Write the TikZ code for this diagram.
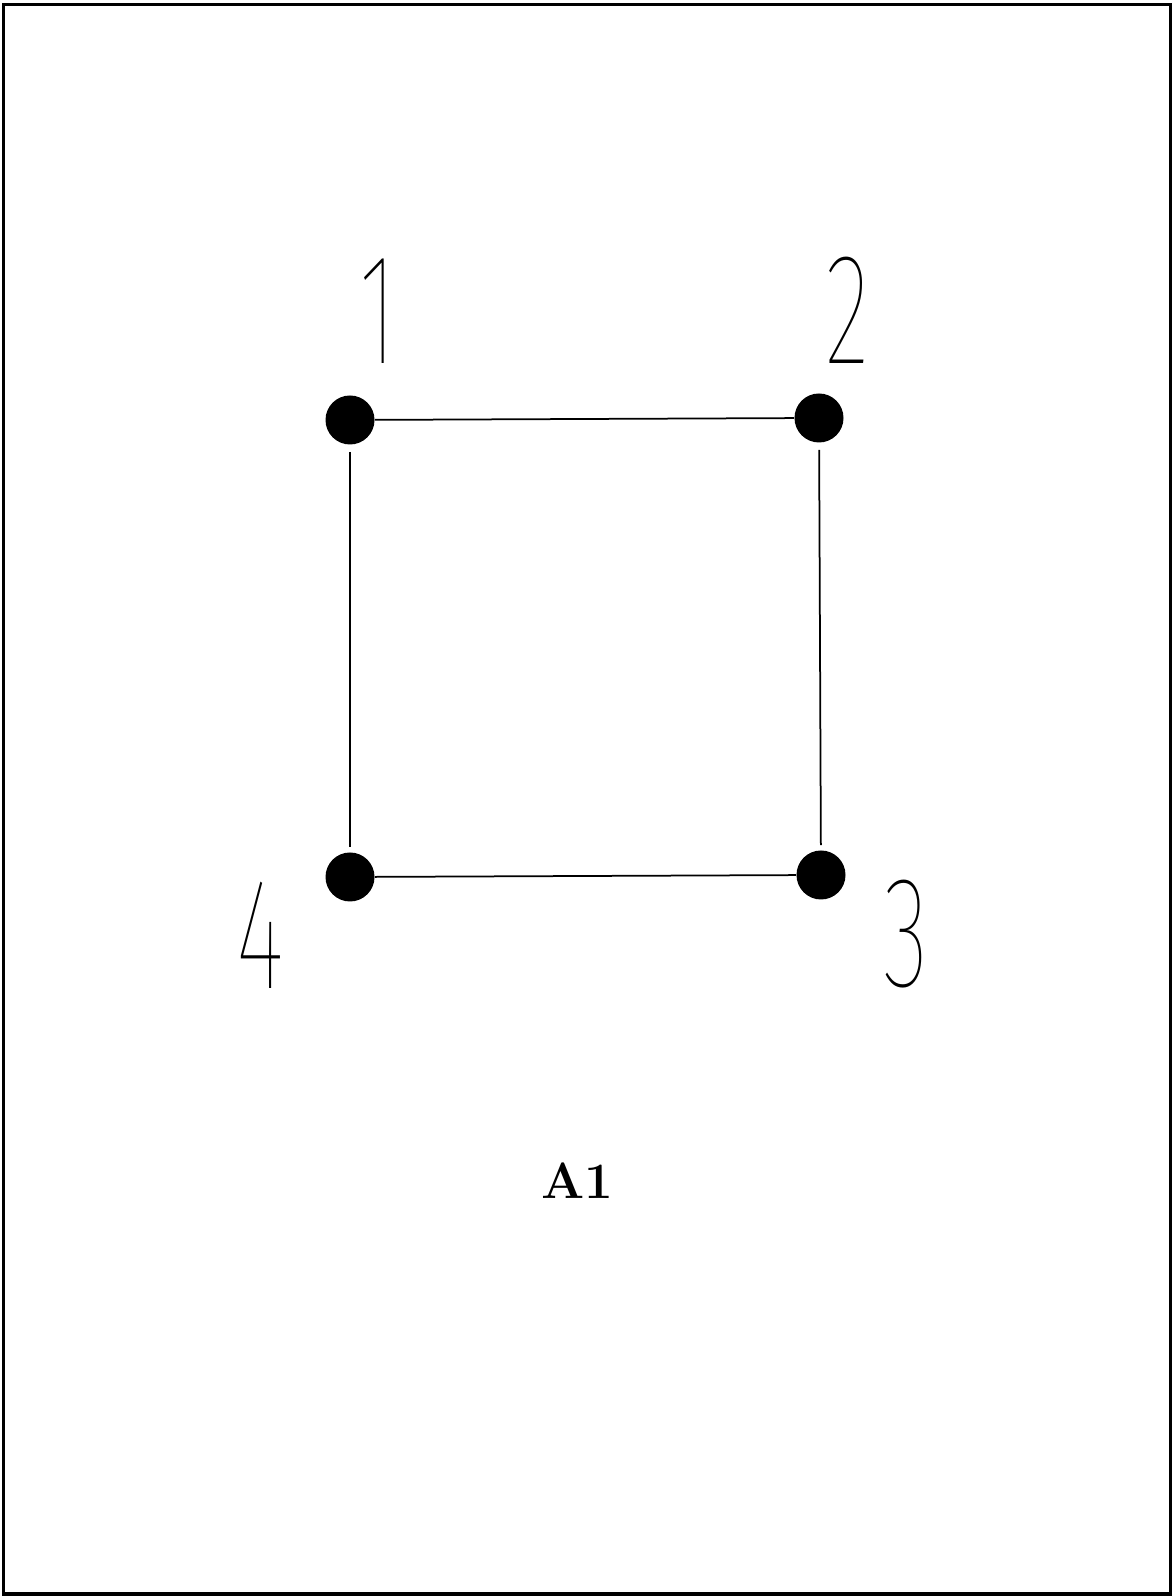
\documentclass[tikz,border=0pt]{standalone}
\usepackage{fontspec}
\usepackage{graphicx}
\newfontfamily\numfont{Fira Sans Thin}
\usetikzlibrary{positioning}
\tikzset{
  frameline/.style = {line width=0.6mm, black},
  edge/.style      = {line width=0.35mm, black},
  vedge/.style     = {edge, shorten <=1.4mm, shorten >=1mm},
  vertexdot/.style = {circle, fill=black, inner sep=0pt, minimum width=9.2mm, minimum height=9.8mm},
  numlbl/.style    = {inner sep=0pt, font=\numfont\fontsize{90}{90}\selectfont},
  titlelbl/.style  = {inner sep=0pt, font=\bfseries\fontsize{29}{29}\selectfont},
}

\begin{document}
\begin{tikzpicture}[x=0.2mm,y=0.2mm]
  \useasboundingbox (0,0) rectangle (1172,1596);
  \draw[frameline] (3,2) rectangle (1170,1591);
  % vertices of the square
  \node[vertexdot] (d1) at (350,1176) {};
  \node[vertexdot] (d2) at (819,1178) {};
  \node[vertexdot] (d3) at (821,721) {};
  \node[vertexdot] (d4) at (350,719) {};
  \draw[edge] (d1) -- (d2);
  \draw[edge] (d4) -- (d3);
  \draw[vedge] (d1) -- (d4);
  \draw[vedge] (d2) -- (d3);
  % vertex numbers
  \node[numlbl] (l1) at (378,1285) {\scalebox{0.6}[1]{1}};
  \node[numlbl] (l2) at (848,1286) {\scalebox{0.6}[1]{2}};
  \node[numlbl] (l3) at (906,662) {\scalebox{0.6}[1]{3}};
  \node[numlbl] (l4) at (260,661) {\scalebox{0.6}[1]{4}};
  \node[titlelbl] (title) at (577,415) {A1};
\end{tikzpicture}
\end{document}
